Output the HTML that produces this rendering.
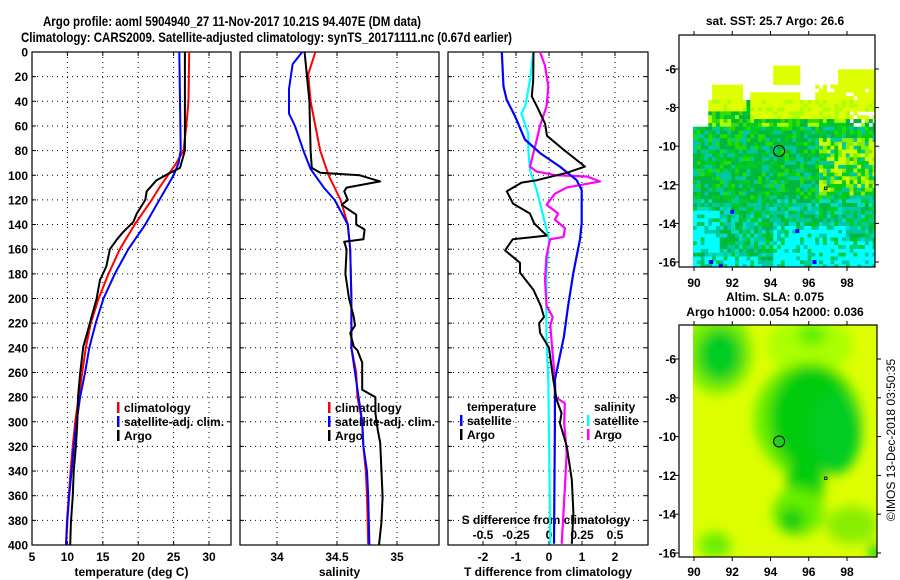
<!DOCTYPE html>
<html><head><meta charset="utf-8">
<style>
html,body{margin:0;padding:0;background:#fff;}
svg{display:block;font-family:"Liberation Sans",Arial,sans-serif;font-weight:bold;}
text{fill:#000;}
</style></head>
<body>
<svg id="fig" width="900" height="580" viewBox="0 0 900 580" xmlns="http://www.w3.org/2000/svg">
<text x="43" y="26" font-size="14" textLength="378" lengthAdjust="spacingAndGlyphs">Argo profile: aoml 5904940_27 11-Nov-2017 10.21S 94.407E (DM data)</text>
<text x="21" y="42" font-size="14" textLength="491" lengthAdjust="spacingAndGlyphs">Climatology: CARS2009. Satellite-adjusted climatology: synTS_20171111.nc (0.67d earlier)</text>
<text x="775" y="25" font-size="12" text-anchor="middle">sat. SST: 25.7 Argo: 26.6</text>
<text x="775" y="301" font-size="12" text-anchor="middle">Altim. SLA: 0.075</text>
<text x="775" y="316" font-size="12" text-anchor="middle">Argo h1000: 0.054 h2000: 0.036</text>
<text transform="translate(895,440) rotate(-90)" font-size="12" font-weight="normal" text-anchor="middle">©IMOS 13-Dec-2018 03:50:35</text>
<defs><filter id="blur" x="-20%" y="-20%" width="140%" height="140%"><feGaussianBlur stdDeviation="6"/></filter>
<clipPath id="clipTop"><rect x="693" y="35" width="182" height="232"/></clipPath>
<clipPath id="clipBot"><rect x="693" y="325" width="184" height="232"/></clipPath>
</defs>
<g id="panels"></g>
<g id="maps"></g>
</svg>
<script>
// ---------- data ----------
const depthTicks = [0,20,40,60,80,100,120,140,160,180,200,220,240,260,280,300,320,340,360,380,400];
const tempTicks = [5,10,15,20,25,30];
const salTicks = [34,34.5,35];
const salTickLabels = ["34","34.5","35"];
const tdiffTicks = [-2,-1,0,1,2];
const sdiffTicks = [-0.5,-0.25,0,0.25,0.5];
const sdiffTickLabels = ["-0.5","-0.25","0","0.25","0.5"];

const tArgoDepth = [0,80,94,98,104,113,120,131,138,146,152,160,174,185,201,215,228,239,261,280,301,320,339,361,382,400];
const tArgo = [26.6,26.6,25.9,24.5,22.6,21.2,21.0,19.8,19.3,17.9,17.0,16.0,15.5,14.6,14.1,13.4,12.8,12.25,11.8,11.5,11.4,11.2,10.9,10.75,10.5,10.4];
const climDepth = [0,40,60,80,90,100,110,120,140,160,180,200,220,240,260,280,300,320,340,360,380,400];
const tClim = [27.2,27.1,26.8,26.4,25.4,24.2,23.0,21.9,19.5,17.4,15.8,14.4,13.3,12.6,12.1,11.6,11.1,10.75,10.45,10.2,9.95,9.8];
const satDepth = [0,80,90,100,110,120,140,160,180,200,220,240,260,280,300,320,340,360,380,400];
const tSat = [25.8,26.0,25.7,25.0,24.0,23.0,21.0,18.6,16.7,15.1,14.0,13.1,12.5,11.8,11.3,10.9,10.6,10.25,10.0,9.8];

const sArgoDepth = [0,40,80,94,98,100,105,110,113,120,124,128,132,140,144,152,154,160,180,200,215,222,228,239,242,252,261,274,280,293,307,317,339,361,382,400];
const sArgo = [34.23,34.27,34.28,34.29,34.36,34.69,34.86,34.58,34.56,34.59,34.54,34.60,34.66,34.66,34.73,34.72,34.56,34.58,34.57,34.60,34.64,34.65,34.61,34.64,34.67,34.71,34.71,34.71,34.82,34.82,34.84,34.86,34.87,34.88,34.87,34.85];
const sClimDepth = [0,18,40,60,80,100,120,140,160,200,228,240,260,280,300,320,340,360,400];
const sClim = [34.32,34.26,34.28,34.32,34.36,34.43,34.53,34.59,34.61,34.62,34.62,34.62,34.66,34.67,34.71,34.72,34.74,34.75,34.76];
const sSatDepth = [0,10,30,50,60,80,95,110,120,140,160,200,230,240,260,280,300,320,340,360,400];
const sSat = [34.21,34.13,34.10,34.10,34.15,34.22,34.28,34.39,34.48,34.59,34.61,34.62,34.62,34.62,34.65,34.68,34.71,34.72,34.75,34.76,34.77];

const dTSatDepth = [0,28,39,52,71,82,93,104,112,125,139,152,179,206,231,266,301,399];
const dTSat = [-1.43,-1.38,-1.28,-1.03,-0.73,-0.27,0.33,0.84,0.99,0.99,0.99,0.94,0.74,0.58,0.45,0.18,0.18,0.15];
const dTArgoDepth = [0,23,36,44,58,68,79,93,98,104,106,113,123,131,139,149,152,161,171,179,193,206,215,220,228,240,266,282,293,301,320,347,374,399];
const dTArgo = [-0.47,-0.48,-0.52,-0.37,-0.12,-0.06,0.43,1.09,0.54,-0.37,-0.83,-1.28,-1.09,-0.58,-0.45,-0.07,-1.1,-1.33,-0.88,-0.88,-0.47,-0.25,-0.15,-0.3,-0.27,0.0,0.13,0.23,0.38,0.33,0.54,0.69,0.74,0.69];
const dSSatDepth = [0,23,44,50,66,79,96,112,139,152,179,231,266,399];
const dSSat = [-0.119,-0.144,-0.18,-0.21,-0.157,-0.157,-0.144,-0.093,-0.03,0.0,-0.02,-0.02,-0.005,0.01];
const dSArgoDepth = [0,11,28,44,60,77,93,97,100,101,105,110,115,124,131,136,143,150,152,166,185,206,215,222,266,280,285,301,325,355,399];
const dSArgo = [-0.068,-0.03,-0.005,-0.018,-0.068,-0.106,-0.144,-0.093,0.058,0.286,0.386,0.134,0.045,-0.018,0.07,0.045,0.121,0.11,0.008,-0.02,-0.03,-0.018,0.028,0.01,0.045,0.05,0.12,0.115,0.134,0.12,0.096];

// ---------- helpers ----------
const NS = "http://www.w3.org/2000/svg";
const panelsG = document.getElementById('panels');
function mk(tag, attrs, parent){const e=document.createElementNS(NS,tag);for(const k in attrs)e.setAttribute(k,attrs[k]);(parent||panelsG).appendChild(e);return e;}
const Y0=52, Y1=545;
function yD(d){return Y0+(d/400)*(Y1-Y0);}
function linScale(v0,x0,v1,x1){return v=>x0+(v-v0)*(x1-x0)/(v1-v0);}

function drawPanel(name,xl,xr,xs,ticks,labels,axisTitle,showYLabels){
  const g=mk('g',{});
  
  
  depthTicks.forEach((d,i)=>{
    if(d>0&&d<400){const l=mk('line',{x1:xl,x2:xr,y1:yD(d),y2:yD(d),stroke:'#000','stroke-width':1,'stroke-dasharray':'1,4'},g);
      
      }
    mk('line',{x1:xl,x2:xl+4,y1:yD(d),y2:yD(d),stroke:'#000'},g);
    mk('line',{x1:xr-4,x2:xr,y1:yD(d),y2:yD(d),stroke:'#000'},g);
    if(showYLabels){const t=mk('text',{x:28,y:yD(d)+4.5,'font-size':12,'text-anchor':'end'},g);t.textContent=d;
      
      }
  });
  ticks.forEach((v,i)=>{
    const x=xs(v);
    const l=mk('line',{x1:x,x2:x,y1:Y0,y2:Y1,stroke:'#000','stroke-width':1,'stroke-dasharray':'1,4'},g);
    
    
    mk('line',{x1:x,x2:x,y1:Y0,y2:Y0+4,stroke:'#000'},g);
    mk('line',{x1:x,x2:x,y1:Y1-4,y2:Y1,stroke:'#000'},g);
    const t=mk('text',{x:x,y:561,'font-size':12,'text-anchor':'middle'},g);t.textContent=labels[i];
    
    
  });
  const at=mk('text',{x:(xl+xr)/2,y:576,'font-size':12,'text-anchor':'middle'},g);at.textContent=axisTitle;
  
  
  const fr=mk('rect',{x:xl,y:Y0,width:xr-xl,height:Y1-Y0,fill:'none',stroke:'#000','stroke-width':1.2},g);
  
  
  return g;
}
function drawLine(g,xs,vals,depths,color,w,name){
  const pts=vals.map((v,i)=>xs(v).toFixed(1)+','+yD(depths[i]).toFixed(1)).join(' ');
  const p=mk('polyline',{points:pts,fill:'none',stroke:color,'stroke-width':w,'stroke-linejoin':'round'},g);
  
  
}
function legend(g,x,y,color,label,name){
  mk('rect',{x:x,y:y-9,width:2.5,height:11,fill:color},g);
  const t=mk('text',{x:x+7,y:y+1,'font-size':12},g);t.textContent=label;
  
  
}

// Panel 1: temperature
const xT=linScale(5,32,30,209);
const g1=drawPanel('temperature',32,231,xT,tempTicks,tempTicks.map(String),'temperature (deg C)',true);
drawLine(g1,xT,tClim,climDepth,'#f00',2,'temp-climatology-line');
drawLine(g1,xT,tSat,satDepth,'#00f',2,'temp-satellite-line');
drawLine(g1,xT,tArgo,tArgoDepth,'#000',2,'temp-argo-line');
legend(g1,117,411,'#f00','climatology','legend-climatology');
legend(g1,117,425,'#00f','satellite-adj. clim.','legend-satellite');
legend(g1,117,439,'#000','Argo','legend-argo');

// Panel 2: salinity
const xS=linScale(34,277,35,397);
const g2=drawPanel('salinity',240,439,xS,salTicks,salTickLabels,'salinity',false);
legend(g2,328,411,'#f00','climatology','legend-climatology-s');
legend(g2,328,425,'#00f','satellite-adj. clim.','legend-satellite-s');
legend(g2,328,439,'#000','Argo','legend-argo-s');
drawLine(g2,xS,sClim,sClimDepth,'#f00',2,'sal-climatology-line');
drawLine(g2,xS,sSat,sSatDepth,'#00f',2,'sal-satellite-line');
drawLine(g2,xS,sArgo,sArgoDepth,'#000',2,'sal-argo-line');

// Panel 3: differences
const xDT=linScale(0,549,1,582);
const xDS=linScale(0,549,0.25,582);
const g3=drawPanel('difference',448,648,xDT,tdiffTicks,tdiffTicks.map(String),'T difference from climatology',false);
legend(g3,460,410,'#fff','temperature','legend-temperature-heading');
legend(g3,460,424,'#00f','satellite','legend-t-satellite');
legend(g3,460,438,'#000','Argo','legend-t-argo');
legend(g3,587,410,'#fff','salinity','legend-salinity-heading');
legend(g3,587,424,'#0ff','satellite','legend-s-satellite');
legend(g3,587,438,'#f0f','Argo','legend-s-argo');
const st=mk('text',{x:546,y:524,'font-size':12,'text-anchor':'middle'},g3);st.textContent='S difference from climatology';


sdiffTicks.forEach((v,i)=>{const t=mk('text',{x:xDS(v),y:539,'font-size':12,'text-anchor':'middle'},g3);t.textContent=sdiffTickLabels[i];
  
  });
drawLine(g3,xDS,dSSat,dSSatDepth,'#0ff',2.2,'sdiff-satellite-line');
drawLine(g3,xDS,dSArgo,dSArgoDepth,'#f0f',2.2,'sdiff-argo-line');
drawLine(g3,xDT,dTSat,dTSatDepth,'#00f',2.2,'tdiff-satellite-line');
drawLine(g3,xDT,dTArgo,dTArgoDepth,'#000',2,'tdiff-argo-line');

// ---------- maps ----------
const mapsG=document.getElementById('maps');
const lonTicks=[90,92,94,96,98];
const latTicks=[-6,-8,-10,-12,-14,-16];
function mapAxes(name,x0,x1,y0,y1,lonX,latY,labelY){
  const g=mk('g',{},mapsG);
  
  
  lonTicks.forEach(l=>{const x=lonX(l);
    mk('line',{x1:x,x2:x,y1:y0-4,y2:y0,stroke:'#000'},g);mk('line',{x1:x,x2:x,y1:y1,y2:y1+4,stroke:'#000'},g);
    const t=mk('text',{x:x,y:labelY,'font-size':12,'text-anchor':'middle'},g);t.textContent=l;
    
    });
  latTicks.forEach(l=>{const y=latY(l);
    mk('line',{x1:x0-4,x2:x0,y1:y,y2:y,stroke:'#000'},g);mk('line',{x1:x1,x2:x1+4,y1:y,y2:y,stroke:'#000'},g);
    const t=mk('text',{x:x0-3,y:y+4.5,'font-size':12,'text-anchor':'end'},g);t.textContent=l;
    
    });
  mk('rect',{x:x0,y:y0,width:x1-x0,height:y1-y0,fill:'none',stroke:'#000','stroke-width':1.2},g);
  return g;
}
// top SST map (pixel imagery)
const lonXT=linScale(90,694,98,847), latYT=linScale(-6,69,-16,262);
const sst=mk('g',{'clip-path':'url(#clipTop)'},mapsG);


function h(i,j){let n=(i*374761393+j*668265263)^0x5bd1e995;n=(n^(n>>>13))*1274126177;n=n^(n>>>16);return ((n>>>0)%1000)/1000;}
const cs=3.82;
for(let j=0;j<61;j++){for(let i=0;i<48;i++){
  const x=693+i*cs,y=35+j*cs,r=h(i,j);let c=null;
  const cx=x+cs/2,cy=y+cs/2;
  if(cx>=773&&cx<=799&&cy>=67&&cy<=83)c='#ddff00';
  else if(cy<86) c=(cx>838&&cy>71)?'#ddff00':null;
  else if(cy<100){ if(cx>712&&cx<742)c='#ddff00'; else if(cx>750&&cx<800&&cy>94)c='#ddff00'; else if(cx>815)c=r<0.15?null:'#ddff00'; }
  else if(cy<128){ if(cx<708) c=null; else if(cy<118&&cx>750) c=r<0.3?'#aaff00':'#ddff00'; else if(cx<745&&cy<110) c=r<0.4?'#aaff00':'#ddff00'; else c=r<0.25?'#00cc22':r<0.5?'#33dd00':r<0.7?'#aaff00':'#00b840'; if(cx>850&&cy>112&&cy<128&&r<0.6)c=null;}
  else if(cy<200){ if(cx>820&&cy>140&&cy<195) c=r<0.3?'#ccff00':r<0.55?'#88ee00':r<0.8?'#00cc22':'#00c8a0';
    else if(cx>845&&cy>180) c=r<0.5?'#00c8a0':'#00bb33';
    else c=r<0.35?'#00b840':r<0.6?'#00c8a0':r<0.85?'#00cc22':'#22dd00'; if(cy<150&&cx<700&&r<0.4)c='#00c8a0';}
  else { const cyanZone=(cx>775&&cx<845&&cy>225)||(cx<720&&cy>210&&cy<252)||(cx>840&&cy>240)||(cy>258&&cx<760);
    if(cyanZone) c=r<0.65?'#00ffff':r<0.85?'#00c8a0':'#00cc44';
    else c=r<0.35?'#00c8a0':r<0.6?'#00b840':r<0.8?'#00cc22':'#00e0c0'; }
  if(!c) continue;
  mk('rect',{x:x.toFixed(2),y:y.toFixed(2),width:cs+0.3,height:cs+0.3,fill:c},sst);
}}
[[92,-13.4],[95.4,-14.4],[90.9,-16],[91.4,-16.2],[96.3,-16]].forEach(p=>mk('rect',{x:lonXT(p[0])-2,y:latYT(p[1])-2,width:4,height:4,fill:'#0000ff'},sst));
mapAxes('sst-map-axes',679,875,35,267,lonXT,latYT,287);
const m1=mk('circle',{cx:lonXT(94.45),cy:latYT(-10.25),r:5.5,fill:'none',stroke:'#000','stroke-width':1},mapsG);


mk('rect',{x:824.5,y:187,width:2.5,height:2.5,fill:'none',stroke:'#000','stroke-width':0.8},mapsG);

// bottom SLA map (smooth field)
const lonXB=linScale(90,694,98,847), latYB=linScale(-6,359,-16,553);
const sla=mk('g',{'clip-path':'url(#clipBot)'},mapsG);


mk('rect',{x:693,y:325,width:184,height:232,fill:'#ddff00'},sla);
const blobG=mk('g',{filter:'url(#blur)'},sla);
[[718,352,34,42,'#77ee00'],[720,355,22,26,'#00cc22'],[810,345,42,30,'#aaff00'],[812,335,14,10,'#55ee00'],
 [808,420,54,58,'#66ee00'],[812,418,42,52,'#00cc11'],[835,432,26,42,'#00cc22'],[805,485,18,42,'#00cc11'],
 [798,512,26,24,'#66ee00'],[792,520,12,12,'#11cc11'],[715,545,16,13,'#66ee00'],[852,525,26,19,'#88ee00'],
 [876,552,7,9,'#00cc22'],[730,480,40,40,'#ddff00'],[705,450,12,20,'#ddff00']].forEach(b=>
  mk('ellipse',{cx:b[0],cy:b[1],rx:b[2],ry:b[3],fill:b[4]},blobG));
mapAxes('sla-map-axes',679,877,325,557,lonXB,latYB,576);
const m2=mk('circle',{cx:lonXB(94.45),cy:latYB(-10.25),r:5.5,fill:'#22cc22',stroke:'#000','stroke-width':1},mapsG);


mk('rect',{x:824.5,y:477,width:2.5,height:2.5,fill:'none',stroke:'#000','stroke-width':0.8},mapsG);
</script>
</body></html>
